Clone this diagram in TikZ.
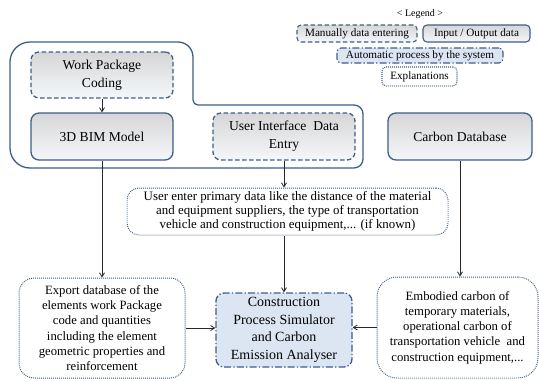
\documentclass[tikz,border=0pt]{standalone}
\usepackage{fontspec}
\setmainfont{Liberation Serif}
\usetikzlibrary{arrows.meta}

\definecolor{edge}{RGB}{62,94,138}
\definecolor{shadetop}{RGB}{214,214,214}
\definecolor{shadebot}{RGB}{244,247,251}
\definecolor{autofill}{RGB}{220,230,242}
\definecolor{wire}{RGB}{40,40,40}

\tikzset{
  box/.style={draw=edge, line width=1.3pt, rounded corners=8pt, align=center,
    inner sep=0pt, top color=shadetop, bottom color=shadebot,
    font=\fontsize{13.6}{18}\selectfont},
  manualbox/.style={box, dash pattern=on 4.5pt off 2.5pt},
  iobox/.style={box},
  autobox/.style={box, fill=autofill, top color=autofill, bottom color=autofill,
    dash pattern=on 7pt off 2.2pt on 1.3pt off 2.2pt},
  explbox/.style={draw=edge, line width=1pt, rounded corners=15pt, fill=white,
    align=center, inner sep=0pt, dash pattern=on 0.9pt off 1.1pt,
    font=\fontsize{12.7}{15.3}\selectfont},
  legbox/.style={line width=1.1pt, rounded corners=4pt,
    font=\fontsize{11.2}{12}\selectfont},
  link/.style={draw=wire, line width=0.8pt, -{Straight Barb[length=4pt,width=5pt]}},
  group/.style={draw=edge, line width=1.3pt}
}

\begin{document}
\begin{tikzpicture}[x=1pt,y=-1pt]
\useasboundingbox (0,0) rectangle (539,381);

% enclosing outline of the BIM modelling stage
\draw[group] (10,100) [rounded corners=20pt] -- (10,42) [rounded corners=15pt] -- (193,42)
  [rounded corners=5pt] -- (193,105) [rounded corners=9pt] -- (363,105) -- (363,168)
  [rounded corners=20pt] -- (10,168) -- cycle;

% legend
\node (legtitle) at (420,14) {\fontsize{10}{11}\selectfont < Legend >};
\node[manualbox, legbox, minimum width=120pt, minimum height=17pt] (legman) at (357,33.5) {Manually data entering};
\node[iobox, legbox, minimum width=107pt, minimum height=17pt] (legio) at (476.5,33.5) {Input / Output data};
\node[autobox, legbox, minimum width=166pt, minimum height=15pt] (legauto) at (420,55.5) {Automatic process by the system};
\node[explbox, legbox, rounded corners=4pt, minimum width=75pt, minimum height=19pt] (legexpl) at (419.5,76.5) {Explanations};

% main boxes
\node[manualbox, minimum width=142pt, minimum height=46pt] (wp) at (102,75) {Work Package\\Coding};
\node[iobox, minimum width=142pt, minimum height=47pt] (bim) at (102,136.5) {3D BIM Model};
\node[manualbox, minimum width=142pt, minimum height=47pt] (ui) at (284,136.5) {User Interface\ \ Data\\Entry};
\node[iobox, minimum width=144pt, minimum height=47pt] (carbon) at (460,136.5) {Carbon Database};

\node[explbox, rounded corners=12pt, minimum width=321pt, minimum height=47pt,
  font=\fontsize{12.9}{14.3}\selectfont] (user) at (287.5,211.5)
  {User enter primary data like the distance of the material\\
   and equipment suppliers, the type of transportation\\
   vehicle and construction equipment,... (if known)};

\node[explbox, minimum width=166pt, minimum height=100pt] (export) at (102,328)
  {Export database of the\\elements work Package\\code and quantities\\including the element\\geometric properties and\\reinforcement};
\node[autobox, minimum width=136pt, minimum height=74pt,
  font=\fontsize{14}{17.7}\selectfont] (cons) at (284,330)
  {Construction\\Process Simulator\\and Carbon\\Emission Analyser};
\node[explbox, rounded corners=20pt, minimum width=161pt, minimum height=101pt] (emb) at (457.5,327.5)
  {Embodied carbon of\\temporary materials,\\operational carbon of\\transportation vehicle\ \ and\\construction equipment,...};

% connectors
\draw[link] (wp) -- (bim);
\draw[link] (bim) -- (export);
\draw[link] (ui.south) -- (ui.south |- user.north);
\draw[link] (cons.north |- user.south) -- (cons.north);
\draw[link] (carbon.south) -- (carbon.south |- emb.north);
\draw[link] (export.east) -- (export.east -| cons.west);
\draw[link] (emb.west) -- (emb.west -| cons.east);
\end{tikzpicture}
\end{document}
